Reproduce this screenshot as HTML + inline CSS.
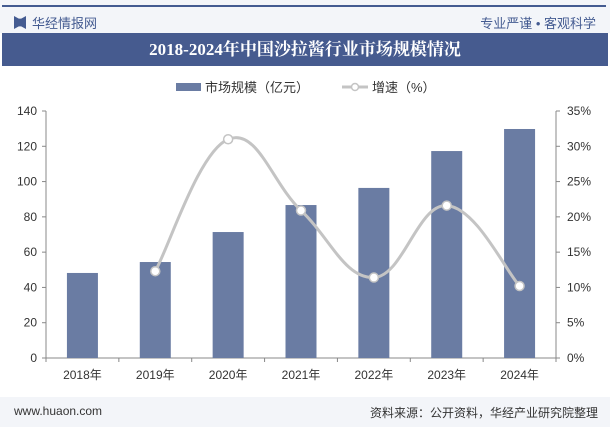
<!DOCTYPE html>
<html><head><meta charset="utf-8"><style>
body{margin:0;width:610px;height:427px;overflow:hidden;background:#fff;font-family:"Liberation Sans","Noto Sans CJK SC",sans-serif;position:relative}
.hdr{position:absolute;left:0;top:0;width:610px;height:33px;background:#f3f5f9}
.title{position:absolute;left:2px;top:33px;width:606px;height:33px;background:#465b8f;color:#fff;font:bold 17px "Liberation Serif","Noto Serif CJK SC",serif;text-align:center;line-height:33px}
.ftr{position:absolute;left:0;top:397px;width:610px;height:30px;background:#f3f5f9;font-size:12px}
</style></head><body>
<div class="hdr">
<span style="position:absolute;left:2px;top:5px;width:604px;height:2px;background:#445b91"></span>
<span style="position:absolute;left:14px;top:16px;width:12px;height:13px;background:#445b91;clip-path:polygon(0 0,40% 20%,60% 20%,100% 0,100% 100%,60% 80%,40% 80%,0 100%)"></span>
<span style="position:absolute;left:32px;top:13px;font-size:13px;color:#445b91">华经情报网</span>
<span style="position:absolute;right:14px;top:13px;font-size:13px;color:#445b91">专业严谨 • 客观科学</span>
</div>
<div class="title">2018-2024年中国沙拉酱行业市场规模情况</div>
<svg id="c" width="610" height="340" style="position:absolute;left:0;top:66px"></svg>
<div class="ftr">
<span style="position:absolute;left:14px;top:7px;color:#333">www.huaon.com</span>
<span style="position:absolute;right:12px;top:7px;color:#333">资料来源：公开资料，华经产业研究院整理</span>
</div>
<script>
const categories=["2018年","2019年","2020年","2021年","2022年","2023年","2024年"];
const marketSize=[48.2,54.4,71.4,86.7,96.4,117.3,129.8];
const growth=[null,12.3,31.0,20.9,11.4,21.6,10.2];
const leftTicks=[0,20,40,60,80,100,120,140];
const rightTicks=[0,5,10,15,20,25,30,35];
const svg=document.getElementById('c');const NS='http://www.w3.org/2000/svg';
const OY=66;
function mk(t,a,p){const e=document.createElementNS(NS,t);for(const k in a)e.setAttribute(k,a[k]);(p||svg).appendChild(e);return e;}
const L=46,R=556,T=111-OY,B=358-OY;
const bw=(R-L)/categories.length;
const xC=i=>L+bw*(i+0.5);
const yL=v=>B-(v/140)*(B-T);
const yR=v=>B-(v/35)*(B-T);
let e=mk('rect',{x:176,y:83-OY,width:25,height:8,fill:'#6a7ca3'});

e=mk('text',{x:205,y:92-OY,'font-size':13,fill:'#333'});e.textContent='市场规模（亿元）';

e=mk('line',{x1:342,y1:87-OY,x2:368,y2:87-OY,stroke:'#c4c4c4','stroke-width':3});

e=mk('circle',{cx:355,cy:87-OY,r:3.5,fill:'#fff',stroke:'#c4c4c4','stroke-width':1.5});
e=mk('text',{x:372,y:92-OY,'font-size':13,fill:'#333'});e.textContent='增速（%）';

e=mk('line',{x1:L,y1:T,x2:L,y2:B,stroke:'#888'});
e=mk('line',{x1:R,y1:T,x2:R,y2:B,stroke:'#888'});
e=mk('line',{x1:L,y1:B,x2:R,y2:B,stroke:'#888'});
leftTicks.forEach(v=>{mk('line',{x1:L-4,y1:yL(v),x2:L,y2:yL(v),stroke:'#888'});
const t=mk('text',{x:L-9,y:yL(v)+4,'font-size':12,fill:'#333','text-anchor':'end'});t.textContent=v;
});
rightTicks.forEach(v=>{mk('line',{x1:R,y1:yR(v),x2:R+4,y2:yR(v),stroke:'#888'});
const t=mk('text',{x:R+11,y:yR(v)+4,'font-size':12,fill:'#333'});t.textContent=v+'%';
});
for(let i=0;i<=categories.length;i++)mk('line',{x1:L+bw*i,y1:B,x2:L+bw*i,y2:B+4,stroke:'#888'});
categories.forEach((c,i)=>{const b=mk('rect',{x:xC(i)-15.5,y:yL(marketSize[i]),width:31,height:B-yL(marketSize[i]),fill:'#6a7ca3'});

const t=mk('text',{x:xC(i),y:B+21,'font-size':12,fill:'#333','text-anchor':'middle'});t.textContent=c;
});
const pts=[];growth.forEach((g,i)=>{if(g!=null)pts.push([xC(i),yR(g)]);});
let d='M'+pts[0][0]+','+pts[0][1];
for(let i=0;i<pts.length-1;i++){const p0=pts[i-1]||pts[i],p1=pts[i],p2=pts[i+1],p3=pts[i+2]||p2;const k=0.2;
d+=` C${p1[0]+(p2[0]-p0[0])*k},${p1[1]+(p2[1]-p0[1])*k} ${p2[0]-(p3[0]-p1[0])*k},${p2[1]-(p3[1]-p1[1])*k} ${p2[0]},${p2[1]}`;}
e=mk('path',{d:d,fill:'none',stroke:'#c4c4c4','stroke-width':3});

pts.forEach(p=>{const c=mk('circle',{cx:p[0],cy:p[1],r:4.5,fill:'#fff',stroke:'#c4c4c4','stroke-width':1.5});
});
</script>
</body></html>
